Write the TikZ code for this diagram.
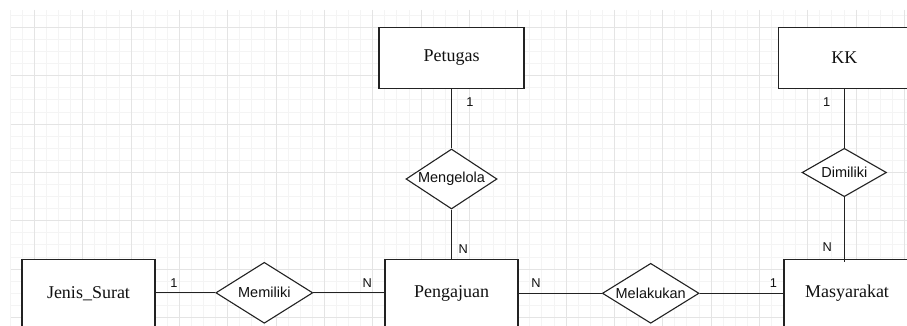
\documentclass[tikz,border=0pt]{standalone}
\usepackage{fontspec}
\setmainfont{Liberation Serif}
\newfontfamily\relfont{Liberation Sans}
\usetikzlibrary{shapes.geometric}
\definecolor{gridminor}{HTML}{F4F4F4}
\definecolor{gridmajor}{HTML}{E4E4E4}
\definecolor{edgecol}{HTML}{222222}
\definecolor{txtcol}{HTML}{111111}
\begin{document}
\begin{tikzpicture}[x=1pt,y=-1pt,
  entity/.style={draw=edgecol, line width=1.1pt, fill=white, inner sep=0pt,
    text=txtcol, font=\fontsize{18}{20}\selectfont},
  relation/.style={draw=edgecol, line width=1.1pt, fill=white, diamond, inner sep=0pt},
  reltext/.style={inner sep=0pt, text=txtcol, font=\relfont\fontsize{14.5}{16}\selectfont},
  card/.style={inner sep=0pt, text=txtcol, font=\relfont\fontsize{12.8}{14}\selectfont},
  conn/.style={draw=edgecol, line width=1.1pt},
  minorline/.style={draw=gridminor, line width=0.8pt},
  majorline/.style={draw=gridmajor, line width=0.8pt}]
\useasboundingbox (0,0) rectangle (907,326);
\clip (0,0) rectangle (907,326);
% grid
\foreach \i in {-2,...,72} {
  \pgfmathsetmacro\xx{34.33+12.083*\i}
  \draw[minorline] (\xx,10) -- (\xx,326);
}
\foreach \i in {-1,...,25} {
  \pgfmathsetmacro\yy{27.33+12.083*\i}
  \draw[minorline] (11,\yy) -- (907,\yy);
}
\foreach \j in {0,...,18} {
  \pgfmathsetmacro\xx{34.33+48.33*\j}
  \draw[majorline] (\xx,10) -- (\xx,326);
}
\foreach \j in {0,...,6} {
  \pgfmathsetmacro\yy{27.33+48.33*\j}
  \draw[majorline] (11,\yy) -- (907,\yy);
}
% entities
\node[entity, minimum width=145pt, minimum height=61pt] (pet) at (451.5,57.7) {Petugas};
\node[entity, minimum width=132pt, minimum height=61pt] (kk) at (844.3,57.7) {KK};
\node[entity, minimum width=133pt, minimum height=67pt] (js) at (88.5,293.3) {Jenis\_Surat};
\node[entity, minimum width=133pt, minimum height=67pt] (peng) at (451.5,293.3) {Pengajuan};
\node[entity, minimum width=126pt, minimum height=67pt] (mas) at (847,293.3) {Masyarakat};
% relations
\node[relation, minimum width=91pt, minimum height=60pt] (mgl) at (451.5,179) {};
\node[relation, minimum width=84.4pt, minimum height=48.4pt] (dim) at (844.3,172.5) {};
\node[relation, minimum width=97pt, minimum height=61pt] (mem) at (264.3,292.8) {};
\node[relation, minimum width=96.7pt, minimum height=60pt] (mel) at (650.7,293.3) {};
\node[reltext] (tmgl) at (mgl.center) {Mengelola};
\node[reltext] (tdim) at (dim.center) {Dimiliki};
\node[reltext] (tmem) at (mem.center) {Memiliki};
\node[reltext] (tmel) at (mel.center) {Melakukan};
% connectors
\draw[conn] (pet.south) -- (mgl.north);
\draw[conn] (mgl.south) -- (mgl.south |- peng.north);
\draw[conn] (kk.south -| dim.north) -- (dim.north);
\draw[conn, shorten >=-3pt] (dim.south) -- (dim.south |- mas.north);
\draw[conn] (js.east |- mem.west) -- (mem.west);
\draw[conn] (mem.east) -- (mem.east -| peng.west);
\draw[conn] (peng.east |- mel.west) -- (mel.west);
\draw[conn] (mel.east) -- (mel.east -| mas.west);
% cardinalities
\node[card] (c1) at (470,101.7) {1};
\node[card] (c2) at (463.3,249) {N};
\node[card] (c3) at (826.7,101.7) {1};
\node[card] (c4) at (827.3,246.7) {N};
\node[card] (c5) at (174,283.3) {1};
\node[card] (c6) at (367.3,283.3) {N};
\node[card] (c7) at (536,283.3) {N};
\node[card] (c8) at (773.3,283.3) {1};
\end{tikzpicture}
\end{document}
